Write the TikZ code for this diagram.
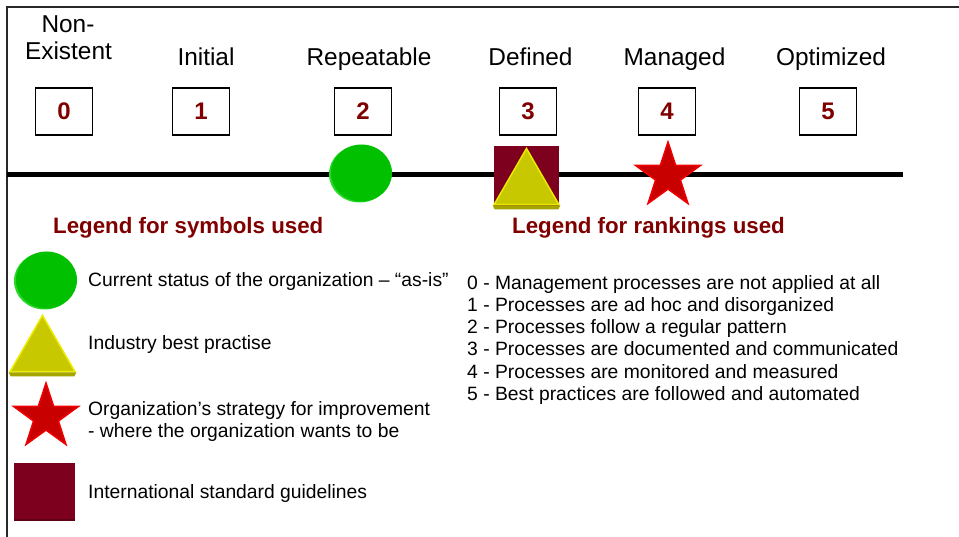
\documentclass[tikz,border=0pt]{standalone}
\usepackage{fontspec}
\setmainfont{Liberation Sans}
\usetikzlibrary{shapes.geometric}
\definecolor{maroontext}{RGB}{128,0,0}
\definecolor{sqcol}{RGB}{125,0,30}
\definecolor{sqdark}{RGB}{95,0,20}
\definecolor{grn}{RGB}{0,192,0}
\definecolor{grnlight}{RGB}{40,215,40}
\definecolor{ylw}{RGB}{200,200,0}
\definecolor{ylwlight}{RGB}{235,235,0}
\definecolor{ylwdark}{RGB}{165,165,0}
\definecolor{strred}{RGB}{200,0,0}
\definecolor{strlight}{RGB}{240,0,0}
\definecolor{bordergray}{RGB}{40,40,40}
\begin{document}
\begin{tikzpicture}[x=1pt,y=-1pt,
  lvl/.style={font=\fontsize{24.4}{27}\selectfont, anchor=base, inner sep=0},
  numbox/.style={draw=black, line width=1.2, minimum width=57, minimum height=47,
    font=\fontsize{24}{24}\selectfont\bfseries, text=maroontext, inner sep=0},
  heading/.style={font=\fontsize{22.3}{26}\selectfont\bfseries, text=maroontext, anchor=base west, inner sep=0},
  item/.style={font=\fontsize{19.3}{22}\selectfont, anchor=base west, inner sep=0},
  greenball/.style={ellipse, fill=grn, minimum width=61, minimum height=57, inner sep=0},
  greenedge/.style={ellipse, fill=grnlight, minimum width=61, minimum height=57, inner sep=0},
  redstar/.style={star, star points=5, star point ratio=2.6, fill=strred, draw=strlight, line width=1.5, minimum size=68, inner sep=0},
  yellowtri/.style={regular polygon, regular polygon sides=3, fill=ylw, draw=ylwlight, line width=1.5, minimum size=75, inner sep=0},
  maroonsq/.style={rectangle, fill=sqcol, inner sep=0}
]
\useasboundingbox (0,0) rectangle (959,537);
\fill[white] (0,0) rectangle (959,537);

% frame
\coordinate (tl) at (7,7);
\coordinate (tr) at (959,7);
\coordinate (bl) at (7,537);
\draw[bordergray, line width=1.5] (tr) -- (tl) -- (bl);

% level labels
\node[lvl] (l0a) at (68,33) {Non-};
\node[lvl] (l0b) at (68.5,60) {Existent};
\node[lvl] (l1) at (206,66) {Initial};
\node[lvl] (l2) at (369,66) {Repeatable};
\node[lvl] (l3) at (530.5,66) {Defined};
\node[lvl] (l4) at (674.5,66) {Managed};
\node[lvl] (l5) at (831,66) {Optimized};

% number boxes
\node[numbox] (b0) at (64,111.5) {0};
\node[numbox] (b1) at (201,111.5) {1};
\node[numbox] (b2) at (363,111.5) {2};
\node[numbox] (b3) at (528,111.5) {3};
\node[numbox] (b4) at (667,111.5) {4};
\node[numbox] (b5) at (828,111.5) {5};

% timeline
\coordinate (lineL) at (7,174.3);
\coordinate (lineR) at (903,174.3);
\draw[black, line width=4.5] (lineL) -- (lineR);

% symbols on timeline
\node[greenedge] (gcE) at (359.5,174) {};
\node[greenball] (gc) at (361.5,173) {};
\node[maroonsq, minimum width=65, minimum height=60] (sq) at (526.5,176) {};
\fill[sqdark] (sq.south west) rectangle ([yshift=-2]sq.south east);
\node[yellowtri] (tri) at (526.5,186) {};
\fill[ylwdark] ([xshift=2,yshift=-4]tri.corner 2) -- ([xshift=-2,yshift=-4]tri.corner 3) -- (tri.corner 3) -- (tri.corner 2) -- cycle;
\node[redstar] (st) at (668,176) {};

% legend headings
\node[heading] (h1) at (53,233.5) {Legend for symbols used};
\node[heading] (h2) at (512,233.5) {Legend for rankings used};

% legend symbols
\node[greenedge] (lgE) at (44.5,281) {};
\node[greenball] (lg) at (46.5,280) {};
\node[item] (t1) at (88,287) {Current status of the organization – “as-is”};

\node[yellowtri] (ltri) at (42.5,353) {};
\fill[ylwdark] ([xshift=2,yshift=-4]ltri.corner 2) -- ([xshift=-2,yshift=-4]ltri.corner 3) -- (ltri.corner 3) -- (ltri.corner 2) -- cycle;
\node[item] (t2) at (88,350) {Industry best practise};

\node[redstar] (lst) at (46,417) {};
\node[item] (t3a) at (88,416) {Organization’s strategy for improvement};
\node[item] (t3b) at (88,437) {- where the organization wants to be};

\node[maroonsq, minimum width=61, minimum height=56] (lsq) at (44.5,491) {};
\fill[sqdark] (lsq.south west) rectangle ([yshift=-2]lsq.south east);
\node[item] (t4) at (88,498) {International standard guidelines};

% rankings
\node[item] (r0) at (467,289.5) {0 - Management processes are not applied at all};
\node[item] (r1) at (467,311.5) {1 - Processes are ad hoc and disorganized};
\node[item] (r2) at (467,334) {2 - Processes follow a regular pattern};
\node[item] (r3) at (467,356) {3 - Processes are documented and communicated};
\node[item] (r4) at (467,378.5) {4 - Processes are monitored and measured};
\node[item] (r5) at (467,400.5) {5 - Best practices are followed and automated};
\end{tikzpicture}
\end{document}
